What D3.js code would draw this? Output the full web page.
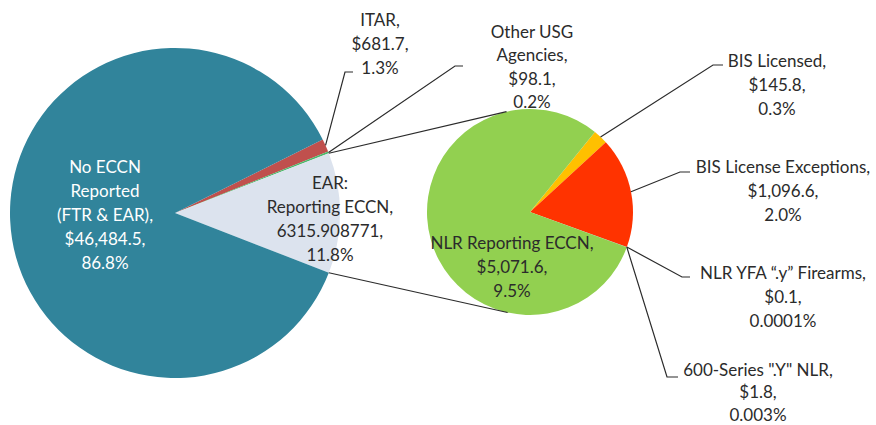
<!DOCTYPE html>
<html>
<head>
<meta charset="utf-8">
<script src="https://cdn.jsdelivr.net/npm/d3@7"></script>
<style>
  body { margin: 0; background: #fff; }
  svg text { font-family: Lato, "Open Sans", sans-serif; }
</style>
</head>
<body>
<div id="chart"></div>
<script>
// main pie (left)
const mainNames = ["ITAR", "Other USG Agencies", "EAR: Reporting ECCN", "No ECCN Reported (FTR & EAR)"];
const mainValues = [681.7, 98.1, 6315.908771, 46484.5];
const mainColors = ["#C0504D", "#4CB86B", "#DCE3EE", "#31849B"];
const mainLabels = [
  ["ITAR,", "$681.7,", "1.3%"],
  ["Other USG", "Agencies,", "$98.1,", "0.2%"],
  ["EAR:", "Reporting ECCN,", "6315.908771,", "11.8%"],
  ["No ECCN", "Reported", "(FTR & EAR),", "$46,484.5,", "86.8%"]
];

// secondary pie (right) = breakdown of EAR slice
const subNames = ["BIS Licensed", "BIS License Exceptions", "NLR YFA \u201c.y\u201d Firearms", "600-Series \".Y\" NLR", "NLR Reporting ECCN"];
const subValues = [145.8, 1096.6, 0.1, 1.8, 5071.6];
const subColors = ["#FFC000", "#FF3300", "#A5A5A5", "#7F7F7F", "#92D050"];
const subLabels = [
  ["BIS Licensed,", "$145.8,", "0.3%"],
  ["BIS License Exceptions,", "$1,096.6,", "2.0%"],
  ["NLR YFA \u201c.y\u201d Firearms,", "$0.1,", "0.0001%"],
  ["600-Series \".Y\" NLR,", "$1.8,", "0.003%"],
  ["NLR Reporting ECCN,", "$5,071.6,", "9.5%"]
];

const W = 876, H = 425;
const M = { cx: 175, cy: 213, r: 165 };
const S = { cx: 530, cy: 212, r: 103 };
const lineH = 24;

// label placement: text centre x, first line centre y, optional elbow [x, y, endX]
const mainPos = [
  { x: 380, y: 20, elbow: [345, 72, 353], color: "#2b2b2b" },
  { x: 532, y: 32, elbow: [455, 66, 463], color: "#2b2b2b", lh: 23.3 },
  { x: 330, y: 183, color: "#2b2b2b" },
  { x: 105, y: 167, color: "#fff" }
];
const subPos = [
  { x: 777, y: 61, elbow: [713, 65, 723] },
  { x: 783, y: 167, elbow: [680, 172, 690] },
  { x: 783, y: 273, elbow: [682, 277, 690] },
  { x: 758, y: 370, elbow: [667, 377, 678], lh: 22.5 },
  { x: 512, y: 243 }
];

const svg = d3.select("#chart").append("svg")
  .attr("width", W).attr("height", H);

const TAU = Math.PI * 2;
const mainTotal = d3.sum(mainValues);
// Excel centres the split slice on the 3 o'clock axis
const mainStart = Math.PI / 2 - (mainValues[0] + mainValues[1]) / mainTotal * TAU - mainValues[2] / mainTotal * Math.PI;
const mainArcs = d3.pie().sort(null).value(d => d)
  .startAngle(mainStart).endAngle(mainStart + TAU)(mainValues);

const subTotal = d3.sum(subValues);
const subStart = (110 / 180) * Math.PI - d3.sum(subValues.slice(0, 4)) / subTotal * TAU;
const subArcs = d3.pie().sort(null).value(d => d)
  .startAngle(subStart).endAngle(subStart + TAU)(subValues);

const arcM = d3.arc().innerRadius(0).outerRadius(M.r);
const arcS = d3.arc().innerRadius(0).outerRadius(S.r);

const onArc = (c, a, r) => [c.cx + r * Math.sin(a), c.cy - r * Math.cos(a)];

svg.append("g").attr("transform", `translate(${M.cx},${M.cy})`)
  .selectAll("path").data(mainArcs).join("path")
  .attr("d", arcM)
  .attr("fill", (d, i) => mainColors[i]);

svg.append("g").attr("transform", `translate(${S.cx},${S.cy})`)
  .selectAll("path").data(subArcs).join("path")
  .attr("d", arcS)
  .attr("fill", (d, i) => subColors[i]);

// series lines: from EAR slice edges to tangent points of the secondary pie
const tangent = (p, upper) => {
  const dx = p[0] - S.cx, dy = p[1] - S.cy;
  const d = Math.hypot(dx, dy);
  const phi = Math.atan2(dy, dx);
  const al = Math.acos(S.r / d);
  const cands = [phi + al, phi - al].map(t => [S.cx + S.r * Math.cos(t), S.cy + S.r * Math.sin(t)]);
  cands.sort((a, b) => a[1] - b[1]);
  return upper ? cands[0] : cands[1];
};
const ear = mainArcs[2];
const pTop = onArc(M, ear.startAngle, M.r);
const pBot = onArc(M, ear.endAngle, M.r);
[[pTop, tangent(pTop, true)], [pBot, tangent(pBot, false)]].forEach(([a, b]) => {
  svg.append("line")
    .attr("x1", a[0]).attr("y1", a[1]).attr("x2", b[0]).attr("y2", b[1])
    .attr("stroke", "#2b2b2b").attr("stroke-width", 1.2);
});

const drawLabels = (arcs, center, r, labels, pos) => {
  arcs.forEach((d, i) => {
    const p = pos[i];
    if (p.elbow) {
      const mid = (d.startAngle + d.endAngle) / 2;
      const s = onArc(center, mid, r);
      svg.append("polyline")
        .attr("points", [s, [p.elbow[0], p.elbow[1]], [p.elbow[2], p.elbow[1]]].map(q => q.join(",")).join(" "))
        .attr("fill", "none")
        .attr("stroke", "#2b2b2b")
        .attr("stroke-width", 1.2);
    }
    const t = svg.append("text")
      .attr("text-anchor", "middle")
      .attr("font-size", 17)
      .attr("fill", p.color || "#2b2b2b");
    labels[i].forEach((ln, j) => {
      t.append("tspan")
        .attr("x", p.x)
        .attr("y", p.y + j * (p.lh || lineH))
        .attr("dy", "0.35em")
        .text(ln);
    });
  });
};

drawLabels(mainArcs, M, M.r, mainLabels, mainPos);
drawLabels(subArcs, S, S.r, subLabels, subPos);
</script>
</body>
</html>
